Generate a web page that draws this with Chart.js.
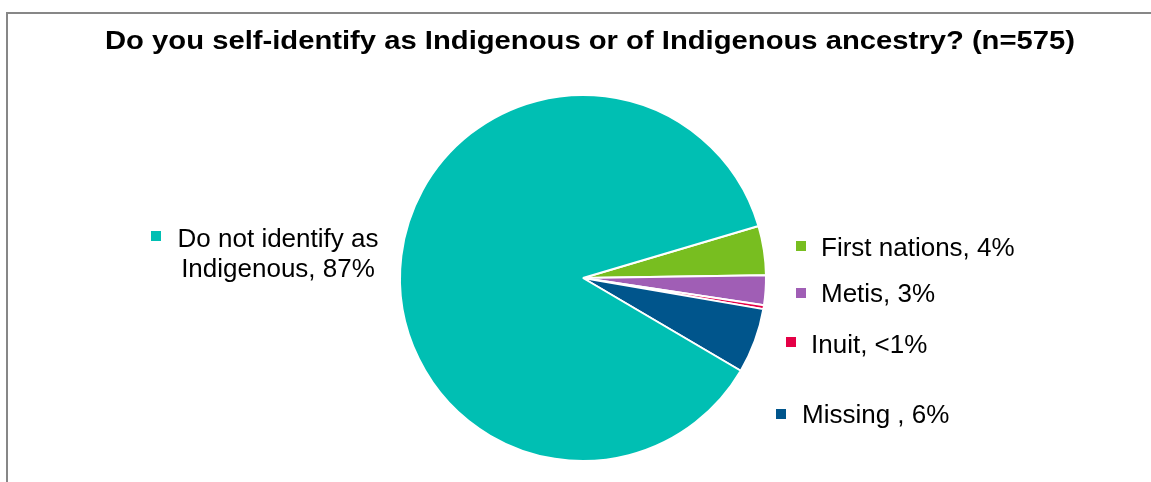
<!DOCTYPE html>
<html>
<head>
<meta charset="utf-8">
<script src="https://cdn.jsdelivr.net/npm/chart.js@4"></script>
<style>
  html, body { margin: 0; padding: 0; background: #fff; }
  canvas { display: block; }
</style>
</head>
<body>
<canvas id="pieChart" width="1151" height="482"></canvas>
<script>
// data (counts out of n=575)
let categories = ['First nations', 'Metis', 'Inuit', 'Missing ', 'Do not identify as Indigenous'];
let counts = [25, 15, 2, 33, 500];
let pctLabels = ['4%', '3%', '<1%', '6%', '87%'];
let colors = ['#78BE20', '#A05EB5', '#E40046', '#00558C', '#00BFB3'];

let titleText = 'Do you self-identify as Indigenous or of Indigenous ancestry? (n=575)';

// where each data label sits (marker square + text), same order as categories
let labelSpots = [
    { mx: 796, my: 241, tx: 821, lines: ['First nations, 4%'], base: 256, align: 'left' },
    { mx: 796, my: 288, tx: 821, lines: ['Metis, 3%'], base: 302, align: 'left' },
    { mx: 786, my: 337, tx: 811, lines: ['Inuit, <1%'], base: 353, align: 'left' },
    { mx: 776, my: 409, tx: 802, lines: ['Missing , 6%'], base: 423, align: 'left' },
    { mx: 151, my: 231, tx: 278, lines: ['Do not identify as', 'Indigenous, 87%'], base: 247, align: 'center' }
];

// frame, title and labels
const extras = {
    id: 'extras',
    beforeDraw(chart) {
        let ctx = chart.ctx;
        ctx.save();
        ctx.strokeStyle = '#878787';
        ctx.lineWidth = 2;
        ctx.beginPath();
        ctx.moveTo(7, 482);
        ctx.lineTo(7, 13);
        ctx.lineTo(1151, 13);
        ctx.stroke();

        // title is drawn a bit wider than the font, like the original
        ctx.fillStyle = '#000';
        ctx.font = 'bold 26px "Liberation Sans", Arial, sans-serif';
        ctx.textAlign = 'center';
        ctx.textBaseline = 'alphabetic';
        let w = ctx.measureText(titleText).width;
        ctx.translate(590, 49);
        ctx.scale(970 / w, 1);
        ctx.fillText(titleText, 0, 0);
        ctx.restore();
    },
    afterDraw(chart) {
        let ctx = chart.ctx;
        ctx.save();
        ctx.font = '26px "Liberation Sans", Arial, sans-serif';
        ctx.textBaseline = 'alphabetic';
        labelSpots.forEach(function(s, i) {
            ctx.fillStyle = colors[i];
            ctx.fillRect(s.mx, s.my, 10, 10);
            ctx.fillStyle = '#000';
            ctx.textAlign = s.align;
            s.lines.forEach(function(line, j) {
                ctx.fillText(line, s.tx, s.base + j * 30);
            });
        });
        ctx.restore();
    }
};

let chart = new Chart(document.getElementById('pieChart'), {
    type: 'pie',
    data: {
        labels: categories,
        datasets: [{
            data: counts,
            backgroundColor: colors,
            borderColor: '#ffffff',
            borderWidth: 2
        }]
    },
    options: {
        responsive: false,
        animation: false,
        rotation: 73.5,
        layout: {
            padding: { top: 94, bottom: 20, left: 200, right: 185 }
        },
        plugins: {
            legend: { display: false },
            title: { display: false },
            tooltip: { enabled: false }
        }
    },
    plugins: [extras]
});
</script>
</body>
</html>
